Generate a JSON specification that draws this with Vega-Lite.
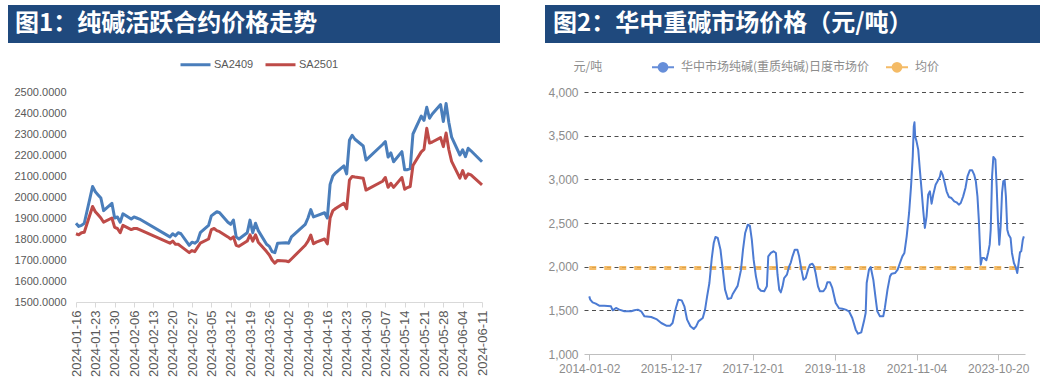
{
  "$schema": "https://vega.github.io/schema/vega-lite/v6.json",
  "padding": {"left": 8, "top": 5, "right": 0, "bottom": 0},
  "background": "white",
  "config": {"view": {"stroke": null}, "font": "Liberation Sans"},
  "resolve": {"scale": {"color": "independent"}, "legend": {"color": "independent"}},
  "spacing": 5,
  "vconcat": [
    {
      "spacing": 45,
      "hconcat": [
        {
          "width": 492,
          "height": 38,
          "view": {"fill": "#1F497D", "stroke": null},
          "data": {"values": [{"t": "图1：纯碱活跃合约价格走势", "px": 0, "py": 0.5}]},
          "mark": {"type": "text", "align": "left", "baseline": "middle", "dx": 7, "color": "#FFFFFF", "font": "Noto Sans CJK SC", "fontSize": 24, "fontWeight": "bold"},
          "encoding": {
            "text": {"field": "t"},
            "x": {"field": "px", "type": "quantitative", "scale": {"domain": [0, 1]}, "axis": null},
            "y": {"field": "py", "type": "quantitative", "scale": {"domain": [0, 1]}, "axis": null}
          }
        },
        {
          "width": 495,
          "height": 38,
          "view": {"fill": "#1F497D", "stroke": null},
          "data": {"values": [{"t": "图2：华中重碱市场价格（元/吨）", "px": 0, "py": 0.5}]},
          "mark": {"type": "text", "align": "left", "baseline": "middle", "dx": 8, "color": "#FFFFFF", "font": "Noto Sans CJK SC", "fontSize": 24, "fontWeight": "bold"},
          "encoding": {
            "text": {"field": "t"},
            "x": {"field": "px", "type": "quantitative", "scale": {"domain": [0, 1]}, "axis": null},
            "y": {"field": "py", "type": "quantitative", "scale": {"domain": [0, 1]}, "axis": null}
          }
        }
      ]
    },
    {
      "spacing": 58,
      "resolve": {"scale": {"color": "independent"}, "legend": {"color": "independent"}},
      "hconcat": [
        {
          "spacing": 5,
          "resolve": {"scale": {"color": "independent"}, "legend": {"color": "independent"}},
          "hconcat": [
            {"width": 1, "height": 1, "data": {"values": []}, "mark": "point"},
            {
              "width": 406,
              "height": 210,
              "data": {"values": [
                {"d":"2024-01-16","SA2409":1875,"SA2501":1825},
                {"d":"2024-01-17","SA2409":1860,"SA2501":1820},
                {"d":"2024-01-18","SA2409":1865,"SA2501":1830},
                {"d":"2024-01-19","SA2409":1875,"SA2501":1832},
                {"d":"2024-01-22","SA2409":2050,"SA2501":1955},
                {"d":"2024-01-23","SA2409":2025,"SA2501":1930},
                {"d":"2024-01-24","SA2409":2010,"SA2501":1915},
                {"d":"2024-01-25","SA2409":1995,"SA2501":1900},
                {"d":"2024-01-26","SA2409":1935,"SA2501":1880},
                {"d":"2024-01-29","SA2409":1970,"SA2501":1900},
                {"d":"2024-01-30","SA2409":1900,"SA2501":1855},
                {"d":"2024-01-31","SA2409":1905,"SA2501":1850},
                {"d":"2024-02-01","SA2409":1880,"SA2501":1830},
                {"d":"2024-02-02","SA2409":1920,"SA2501":1865},
                {"d":"2024-02-05","SA2409":1895,"SA2501":1845},
                {"d":"2024-02-06","SA2409":1905,"SA2501":1850},
                {"d":"2024-02-07","SA2409":1900,"SA2501":1850},
                {"d":"2024-02-08","SA2409":1895,"SA2501":1845},
                {"d":"2024-02-19","SA2409":1810,"SA2501":1780},
                {"d":"2024-02-20","SA2409":1825,"SA2501":1790},
                {"d":"2024-02-21","SA2409":1815,"SA2501":1775},
                {"d":"2024-02-22","SA2409":1830,"SA2501":1775},
                {"d":"2024-02-23","SA2409":1825,"SA2501":1765},
                {"d":"2024-02-26","SA2409":1770,"SA2501":1735},
                {"d":"2024-02-27","SA2409":1785,"SA2501":1745},
                {"d":"2024-02-28","SA2409":1780,"SA2501":1740},
                {"d":"2024-02-29","SA2409":1790,"SA2501":1760},
                {"d":"2024-03-01","SA2409":1830,"SA2501":1780},
                {"d":"2024-03-04","SA2409":1865,"SA2501":1800},
                {"d":"2024-03-05","SA2409":1910,"SA2501":1845},
                {"d":"2024-03-06","SA2409":1920,"SA2501":1850},
                {"d":"2024-03-07","SA2409":1930,"SA2501":1840},
                {"d":"2024-03-08","SA2409":1925,"SA2501":1835},
                {"d":"2024-03-11","SA2409":1880,"SA2501":1810},
                {"d":"2024-03-12","SA2409":1870,"SA2501":1800},
                {"d":"2024-03-13","SA2409":1890,"SA2501":1810},
                {"d":"2024-03-14","SA2409":1810,"SA2501":1770},
                {"d":"2024-03-15","SA2409":1800,"SA2501":1765},
                {"d":"2024-03-18","SA2409":1830,"SA2501":1790},
                {"d":"2024-03-19","SA2409":1890,"SA2501":1820},
                {"d":"2024-03-20","SA2409":1830,"SA2501":1790},
                {"d":"2024-03-21","SA2409":1875,"SA2501":1820},
                {"d":"2024-03-22","SA2409":1840,"SA2501":1785},
                {"d":"2024-03-25","SA2409":1775,"SA2501":1740},
                {"d":"2024-03-26","SA2409":1765,"SA2501":1724},
                {"d":"2024-03-27","SA2409":1740,"SA2501":1700},
                {"d":"2024-03-28","SA2409":1735,"SA2501":1685},
                {"d":"2024-03-29","SA2409":1780,"SA2501":1698},
                {"d":"2024-04-01","SA2409":1782,"SA2501":1695},
                {"d":"2024-04-02","SA2409":1780,"SA2501":1692},
                {"d":"2024-04-03","SA2409":1810,"SA2501":1705},
                {"d":"2024-04-08","SA2409":1870,"SA2501":1770},
                {"d":"2024-04-09","SA2409":1900,"SA2501":1790},
                {"d":"2024-04-10","SA2409":1940,"SA2501":1819},
                {"d":"2024-04-11","SA2409":1905,"SA2501":1777},
                {"d":"2024-04-12","SA2409":1910,"SA2501":1785},
                {"d":"2024-04-15","SA2409":1925,"SA2501":1800},
                {"d":"2024-04-16","SA2409":1900,"SA2501":1777},
                {"d":"2024-04-17","SA2409":2060,"SA2501":1900},
                {"d":"2024-04-18","SA2409":2100,"SA2501":1935},
                {"d":"2024-04-19","SA2409":2115,"SA2501":1945},
                {"d":"2024-04-22","SA2409":2148,"SA2501":1970},
                {"d":"2024-04-23","SA2409":2110,"SA2501":1944},
                {"d":"2024-04-24","SA2409":2270,"SA2501":2080},
                {"d":"2024-04-25","SA2409":2294,"SA2501":2098},
                {"d":"2024-04-26","SA2409":2275,"SA2501":2095},
                {"d":"2024-04-29","SA2409":2243,"SA2501":2089},
                {"d":"2024-04-30","SA2409":2176,"SA2501":2033},
                {"d":"2024-05-06","SA2409":2250,"SA2501":2075},
                {"d":"2024-05-07","SA2409":2264,"SA2501":2093},
                {"d":"2024-05-08","SA2409":2190,"SA2501":2046},
                {"d":"2024-05-09","SA2409":2210,"SA2501":2065},
                {"d":"2024-05-10","SA2409":2168,"SA2501":2046},
                {"d":"2024-05-13","SA2409":2216,"SA2501":2093},
                {"d":"2024-05-14","SA2409":2130,"SA2501":2037},
                {"d":"2024-05-15","SA2409":2130,"SA2501":2045},
                {"d":"2024-05-16","SA2409":2135,"SA2501":2050},
                {"d":"2024-05-17","SA2409":2300,"SA2501":2150},
                {"d":"2024-05-20","SA2409":2385,"SA2501":2215},
                {"d":"2024-05-21","SA2409":2365,"SA2501":2227},
                {"d":"2024-05-22","SA2409":2427,"SA2501":2327},
                {"d":"2024-05-23","SA2409":2375,"SA2501":2257},
                {"d":"2024-05-24","SA2409":2395,"SA2501":2262},
                {"d":"2024-05-27","SA2409":2440,"SA2501":2283},
                {"d":"2024-05-28","SA2409":2360,"SA2501":2240},
                {"d":"2024-05-29","SA2409":2445,"SA2501":2305},
                {"d":"2024-05-30","SA2409":2355,"SA2501":2225},
                {"d":"2024-05-31","SA2409":2285,"SA2501":2170},
                {"d":"2024-06-03","SA2409":2200,"SA2501":2090},
                {"d":"2024-06-04","SA2409":2225,"SA2501":2126},
                {"d":"2024-06-05","SA2409":2192,"SA2501":2089},
                {"d":"2024-06-06","SA2409":2232,"SA2501":2110},
                {"d":"2024-06-07","SA2409":2220,"SA2501":2105},
                {"d":"2024-06-11","SA2409":2168,"SA2501":2058}
              ]},
              "transform": [{"fold": ["SA2409", "SA2501"], "as": ["s", "v"]}],
              "mark": {"type": "line", "strokeWidth": 3, "strokeJoin": "round"},
              "encoding": {
                "x": {
                  "field": "d", "type": "temporal",
                  "scale": {"type": "utc", "domain": [{"year": 2024, "month": 1, "date": 16, "utc": true}, {"year": 2024, "month": 6, "date": 11, "utc": true}]},
                  "axis": {
                    "title": null, "grid": false, "format": "%Y-%m-%d", "labelAngle": -90,
                    "labelFontSize": 13, "labelColor": "#595959", "labelFlush": false, "labelOverlap": false,
                    "domainColor": "#D9D9D9", "tickColor": "#D9D9D9", "tickSize": 5, "labelPadding": 3,
                    "values": [
                      {"year": 2024, "month": 1, "date": 16, "utc": true},
                      {"year": 2024, "month": 1, "date": 23, "utc": true},
                      {"year": 2024, "month": 1, "date": 30, "utc": true},
                      {"year": 2024, "month": 2, "date": 6, "utc": true},
                      {"year": 2024, "month": 2, "date": 13, "utc": true},
                      {"year": 2024, "month": 2, "date": 20, "utc": true},
                      {"year": 2024, "month": 2, "date": 27, "utc": true},
                      {"year": 2024, "month": 3, "date": 5, "utc": true},
                      {"year": 2024, "month": 3, "date": 12, "utc": true},
                      {"year": 2024, "month": 3, "date": 19, "utc": true},
                      {"year": 2024, "month": 3, "date": 26, "utc": true},
                      {"year": 2024, "month": 4, "date": 2, "utc": true},
                      {"year": 2024, "month": 4, "date": 9, "utc": true},
                      {"year": 2024, "month": 4, "date": 16, "utc": true},
                      {"year": 2024, "month": 4, "date": 23, "utc": true},
                      {"year": 2024, "month": 4, "date": 30, "utc": true},
                      {"year": 2024, "month": 5, "date": 7, "utc": true},
                      {"year": 2024, "month": 5, "date": 14, "utc": true},
                      {"year": 2024, "month": 5, "date": 21, "utc": true},
                      {"year": 2024, "month": 5, "date": 28, "utc": true},
                      {"year": 2024, "month": 6, "date": 4, "utc": true},
                      {"year": 2024, "month": 6, "date": 11, "utc": true}
                    ]
                  }
                },
                "y": {
                  "field": "v", "type": "quantitative",
                  "scale": {"domain": [1500, 2500], "nice": false, "zero": false},
                  "axis": {"title": null, "values": [1500, 1600, 1700, 1800, 1900, 2000, 2100, 2200, 2300, 2400, 2500], "format": ".4f", "domain": false, "ticks": false, "grid": false, "labelFontSize": 11, "labelColor": "#595959", "labelPadding": 10}
                },
                "color": {
                  "field": "s", "type": "nominal",
                  "scale": {"domain": ["SA2409", "SA2501"], "range": ["#4A7EBB", "#BE4B48"]},
                  "legend": {"title": null, "orient": "none", "legendX": 103, "legendY": -44, "direction": "horizontal", "symbolType": "stroke", "symbolSize": 900, "symbolStrokeWidth": 3, "labelFontSize": 11, "labelColor": "#595959", "labelOffset": 2, "columnPadding": 5, "padding": 0}
                }
              }
            }
          ]
        },
        {
          "width": 441,
          "height": 262,
          "layer": [
            {
              "data": {"values": [{"d": "2014-01-02", "a": 1985}, {"d": "2024-05-31", "a": 1985}]},
              "mark": {"type": "line", "strokeWidth": 4, "strokeDash": [7, 8], "opacity": 0.85},
              "encoding": {
                "x": {"field": "d", "type": "temporal"},
                "y": {"field": "a", "type": "quantitative"},
                "color": {"datum": "均价", "type": "nominal"}
              }
            },
            {
              "data": {"values": [
                {"d":"2014-01-02","p":1660},{"d":"2014-01-11","p":1622},{"d":"2014-01-31","p":1592},{"d":"2014-02-28","p":1576},
                {"d":"2014-03-30","p":1553},{"d":"2014-05-13","p":1553},{"d":"2014-07-11","p":1546},{"d":"2014-07-26","p":1500},
                {"d":"2014-08-24","p":1527},{"d":"2014-09-22","p":1508},{"d":"2014-11-05","p":1489},{"d":"2015-01-03","p":1489},
                {"d":"2015-02-01","p":1500},{"d":"2015-03-03","p":1508},{"d":"2015-04-01","p":1489},{"d":"2015-04-30","p":1431},
                {"d":"2015-06-28","p":1424},{"d":"2015-08-12","p":1400},{"d":"2015-09-24","p":1355},{"d":"2015-11-07","p":1324},
                {"d":"2015-12-11","p":1324},{"d":"2016-01-01","p":1355},{"d":"2016-01-30","p":1527},{"d":"2016-02-20","p":1622},
                {"d":"2016-03-21","p":1614},{"d":"2016-04-13","p":1546},{"d":"2016-05-07","p":1393},{"d":"2016-06-05","p":1317},
                {"d":"2016-07-04","p":1286},{"d":"2016-07-25","p":1317},{"d":"2016-08-14","p":1374},{"d":"2016-09-21","p":1412},
                {"d":"2016-10-11","p":1508},{"d":"2016-10-29","p":1660},{"d":"2016-11-18","p":1813},{"d":"2016-12-09","p":2099},
                {"d":"2016-12-26","p":2271},{"d":"2017-01-10","p":2340},{"d":"2017-01-30","p":2328},{"d":"2017-02-23","p":2195},
                {"d":"2017-03-15","p":1966},{"d":"2017-04-04","p":1737},{"d":"2017-04-28","p":1630},{"d":"2017-05-27","p":1640},
                {"d":"2017-06-09","p":1684},{"d":"2017-07-23","p":1780},{"d":"2017-08-21","p":1960},{"d":"2017-09-08","p":2195},
                {"d":"2017-09-27","p":2386},{"d":"2017-10-20","p":2481},{"d":"2017-11-07","p":2470},{"d":"2017-11-24","p":2309},
                {"d":"2017-12-10","p":2080},{"d":"2017-12-30","p":1889},{"d":"2018-01-20","p":1756},{"d":"2018-02-12","p":1725},
                {"d":"2018-03-13","p":1718},{"d":"2018-04-05","p":1775},{"d":"2018-04-17","p":2118},{"d":"2018-05-10","p":2157},
                {"d":"2018-06-02","p":2176},{"d":"2018-06-23","p":2157},{"d":"2018-07-07","p":1908},{"d":"2018-07-22","p":1737},
                {"d":"2018-08-05","p":1706},{"d":"2018-08-20","p":1775},{"d":"2018-09-03","p":1870},{"d":"2018-09-27","p":1908},
                {"d":"2018-10-17","p":2004},{"d":"2018-11-01","p":2050},{"d":"2018-11-15","p":2118},{"d":"2018-12-05","p":2195},
                {"d":"2018-12-28","p":2195},{"d":"2019-01-12","p":2118},{"d":"2019-02-01","p":1966},{"d":"2019-02-19","p":1851},
                {"d":"2019-03-11","p":1870},{"d":"2019-03-31","p":1966},{"d":"2019-04-17","p":2023},{"d":"2019-05-08","p":2034},
                {"d":"2019-05-22","p":2004},{"d":"2019-06-05","p":1927},{"d":"2019-06-26","p":1775},{"d":"2019-07-13","p":1718},
                {"d":"2019-08-12","p":1718},{"d":"2019-09-01","p":1756},{"d":"2019-09-16","p":1821},{"d":"2019-10-09","p":1821},
                {"d":"2019-10-29","p":1756},{"d":"2019-11-28","p":1584},{"d":"2019-12-27","p":1523},{"d":"2020-01-25","p":1519},
                {"d":"2020-02-23","p":1508},{"d":"2020-03-23","p":1489},{"d":"2020-04-21","p":1412},{"d":"2020-05-21","p":1279},
                {"d":"2020-06-10","p":1233},{"d":"2020-07-09","p":1248},{"d":"2020-08-01","p":1374},{"d":"2020-08-16","p":1469},
                {"d":"2020-08-25","p":1813},{"d":"2020-09-14","p":1966},{"d":"2020-09-29","p":1996},{"d":"2020-10-22","p":1851},
                {"d":"2020-11-11","p":1641},{"d":"2020-11-26","p":1489},{"d":"2020-12-19","p":1431},{"d":"2021-01-17","p":1431},
                {"d":"2021-01-31","p":1527},{"d":"2021-02-23","p":1737},{"d":"2021-03-17","p":1889},{"d":"2021-04-01","p":1920},
                {"d":"2021-04-30","p":1927},{"d":"2021-05-23","p":1966},{"d":"2021-06-12","p":2042},{"d":"2021-07-03","p":2118},
                {"d":"2021-07-21","p":2157},{"d":"2021-08-10","p":2347},{"d":"2021-08-31","p":2615},{"d":"2021-09-17","p":2920},
                {"d":"2021-10-02","p":3263},{"d":"2021-10-11","p":3607},{"d":"2021-10-17","p":3653},{"d":"2021-10-23","p":3492},
                {"d":"2021-11-04","p":3435},{"d":"2021-11-19","p":3340},{"d":"2021-12-03","p":3111},{"d":"2021-12-18","p":2882},
                {"d":"2022-01-01","p":2653},{"d":"2022-01-16","p":2443},{"d":"2022-01-31","p":2576},{"d":"2022-02-14","p":2824},
                {"d":"2022-03-01","p":2863},{"d":"2022-03-16","p":2721},{"d":"2022-03-30","p":2824},{"d":"2022-04-20","p":2939},
                {"d":"2022-05-07","p":2977},{"d":"2022-05-28","p":3034},{"d":"2022-06-06","p":3092},{"d":"2022-06-20","p":3054},
                {"d":"2022-07-05","p":2977},{"d":"2022-07-25","p":2863},{"d":"2022-08-14","p":2798},{"d":"2022-09-06","p":2786},
                {"d":"2022-09-30","p":2748},{"d":"2022-10-20","p":2737},{"d":"2022-11-09","p":2710},{"d":"2022-11-26","p":2729},
                {"d":"2022-12-17","p":2805},{"d":"2023-01-06","p":2901},{"d":"2023-01-24","p":3034},{"d":"2023-02-13","p":3103},
                {"d":"2023-03-06","p":3103},{"d":"2023-03-23","p":3054},{"d":"2023-04-07","p":2977},{"d":"2023-04-21","p":2805},
                {"d":"2023-05-03","p":2538},{"d":"2023-05-14","p":2195},{"d":"2023-05-20","p":2023},{"d":"2023-06-01","p":2099},
                {"d":"2023-06-18","p":2099},{"d":"2023-07-08","p":2073},{"d":"2023-07-23","p":2157},{"d":"2023-08-06","p":2252},
                {"d":"2023-08-15","p":2424},{"d":"2023-08-27","p":3034},{"d":"2023-09-07","p":3256},{"d":"2023-09-25","p":3225},
                {"d":"2023-10-06","p":2920},{"d":"2023-10-17","p":2538},{"d":"2023-10-29","p":2252},{"d":"2023-11-10","p":2462},
                {"d":"2023-11-22","p":2844},{"d":"2023-12-03","p":2977},{"d":"2023-12-15","p":2989},{"d":"2023-12-26","p":2805},
                {"d":"2024-01-07","p":2424},{"d":"2024-01-19","p":2366},{"d":"2024-02-05","p":2328},{"d":"2024-02-17","p":2157},
                {"d":"2024-03-05","p":2042},{"d":"2024-03-23","p":1985},{"d":"2024-04-03","p":1927},{"d":"2024-04-15","p":2042},
                {"d":"2024-04-27","p":2164},{"d":"2024-05-08","p":2176},{"d":"2024-05-22","p":2309},{"d":"2024-05-31","p":2347}
              ]},
              "mark": {"type": "line", "strokeWidth": 2, "strokeJoin": "round"},
              "encoding": {
                "x": {
                  "field": "d", "type": "temporal",
                  "scale": {"type": "utc", "domain": [{"year": 2013, "month": 11, "date": 17, "utc": true}, {"year": 2024, "month": 6, "date": 10, "utc": true}]},
                  "axis": {
                    "title": null, "grid": false, "format": "%Y-%m-%d", "labelAngle": 0,
                    "labelFontSize": 12, "labelColor": "#8C8C8C", "labelFlush": false, "labelOverlap": false,
                    "domainColor": "#BFBFBF", "tickColor": "#BFBFBF", "tickSize": 6, "labelPadding": 3,
                    "values": [
                      {"year": 2014, "month": 1, "date": 2, "utc": true},
                      {"year": 2015, "month": 12, "date": 17, "utc": true},
                      {"year": 2017, "month": 12, "date": 1, "utc": true},
                      {"year": 2019, "month": 11, "date": 18, "utc": true},
                      {"year": 2021, "month": 11, "date": 4, "utc": true},
                      {"year": 2023, "month": 10, "date": 20, "utc": true}
                    ]
                  }
                },
                "y": {
                  "field": "p", "type": "quantitative",
                  "scale": {"domain": [1000, 4000], "nice": false, "zero": false},
                  "axis": {
                    "values": [1000, 1500, 2000, 2500, 3000, 3500, 4000], "format": ",.0f",
                    "domain": false, "ticks": false, "grid": true,
                    "gridDash": [4, 3.5], "gridColor": "#4D4D4D", "gridWidth": 1,
                    "gridOpacity": {"condition": {"test": "datum.value === 1000", "value": 0}, "value": 1},
                    "labelFontSize": 12, "labelColor": "#8C8C8C", "labelPadding": 6,
                    "title": "元/吨", "titleAngle": 0, "titleX": -11, "titleY": -26, "titleAlign": "left", "titleBaseline": "middle",
                    "titleFont": "Noto Sans CJK SC", "titleFontSize": 12, "titleFontWeight": "normal", "titleColor": "#8C8C8C"
                  }
                },
                "color": {
                  "datum": "华中市场纯碱(重质纯碱)日度市场价", "type": "nominal",
                  "scale": {"domain": ["华中市场纯碱(重质纯碱)日度市场价", "均价"], "range": ["#4C7BD3", "#F3B04C"]},
                  "legend": {
                    "title": null, "orient": "none", "legendX": 67, "legendY": -37, "direction": "horizontal",
                    "symbolType": "M-1,0H1M-0.4,0a0.4,0.4 0 1,0 0.8,0a0.4,0.4 0 1,0 -0.8,0M-0.24,0a0.24,0.24 0 1,0 0.48,0a0.24,0.24 0 1,0 -0.48,0M-0.08,0a0.08,0.08 0 1,0 0.16,0a0.08,0.08 0 1,0 -0.16,0",
                    "symbolSize": 484, "symbolStrokeWidth": 2, "symbolDash": [],
                    "labelFont": "Noto Sans CJK SC", "labelFontSize": 12, "labelColor": "#8C8C8C", "labelOffset": 6, "labelLimit": 400,
                    "columnPadding": 12, "padding": 0
                  }
                }
              }
            }
          ]
        }
      ]
    }
  ]
}
